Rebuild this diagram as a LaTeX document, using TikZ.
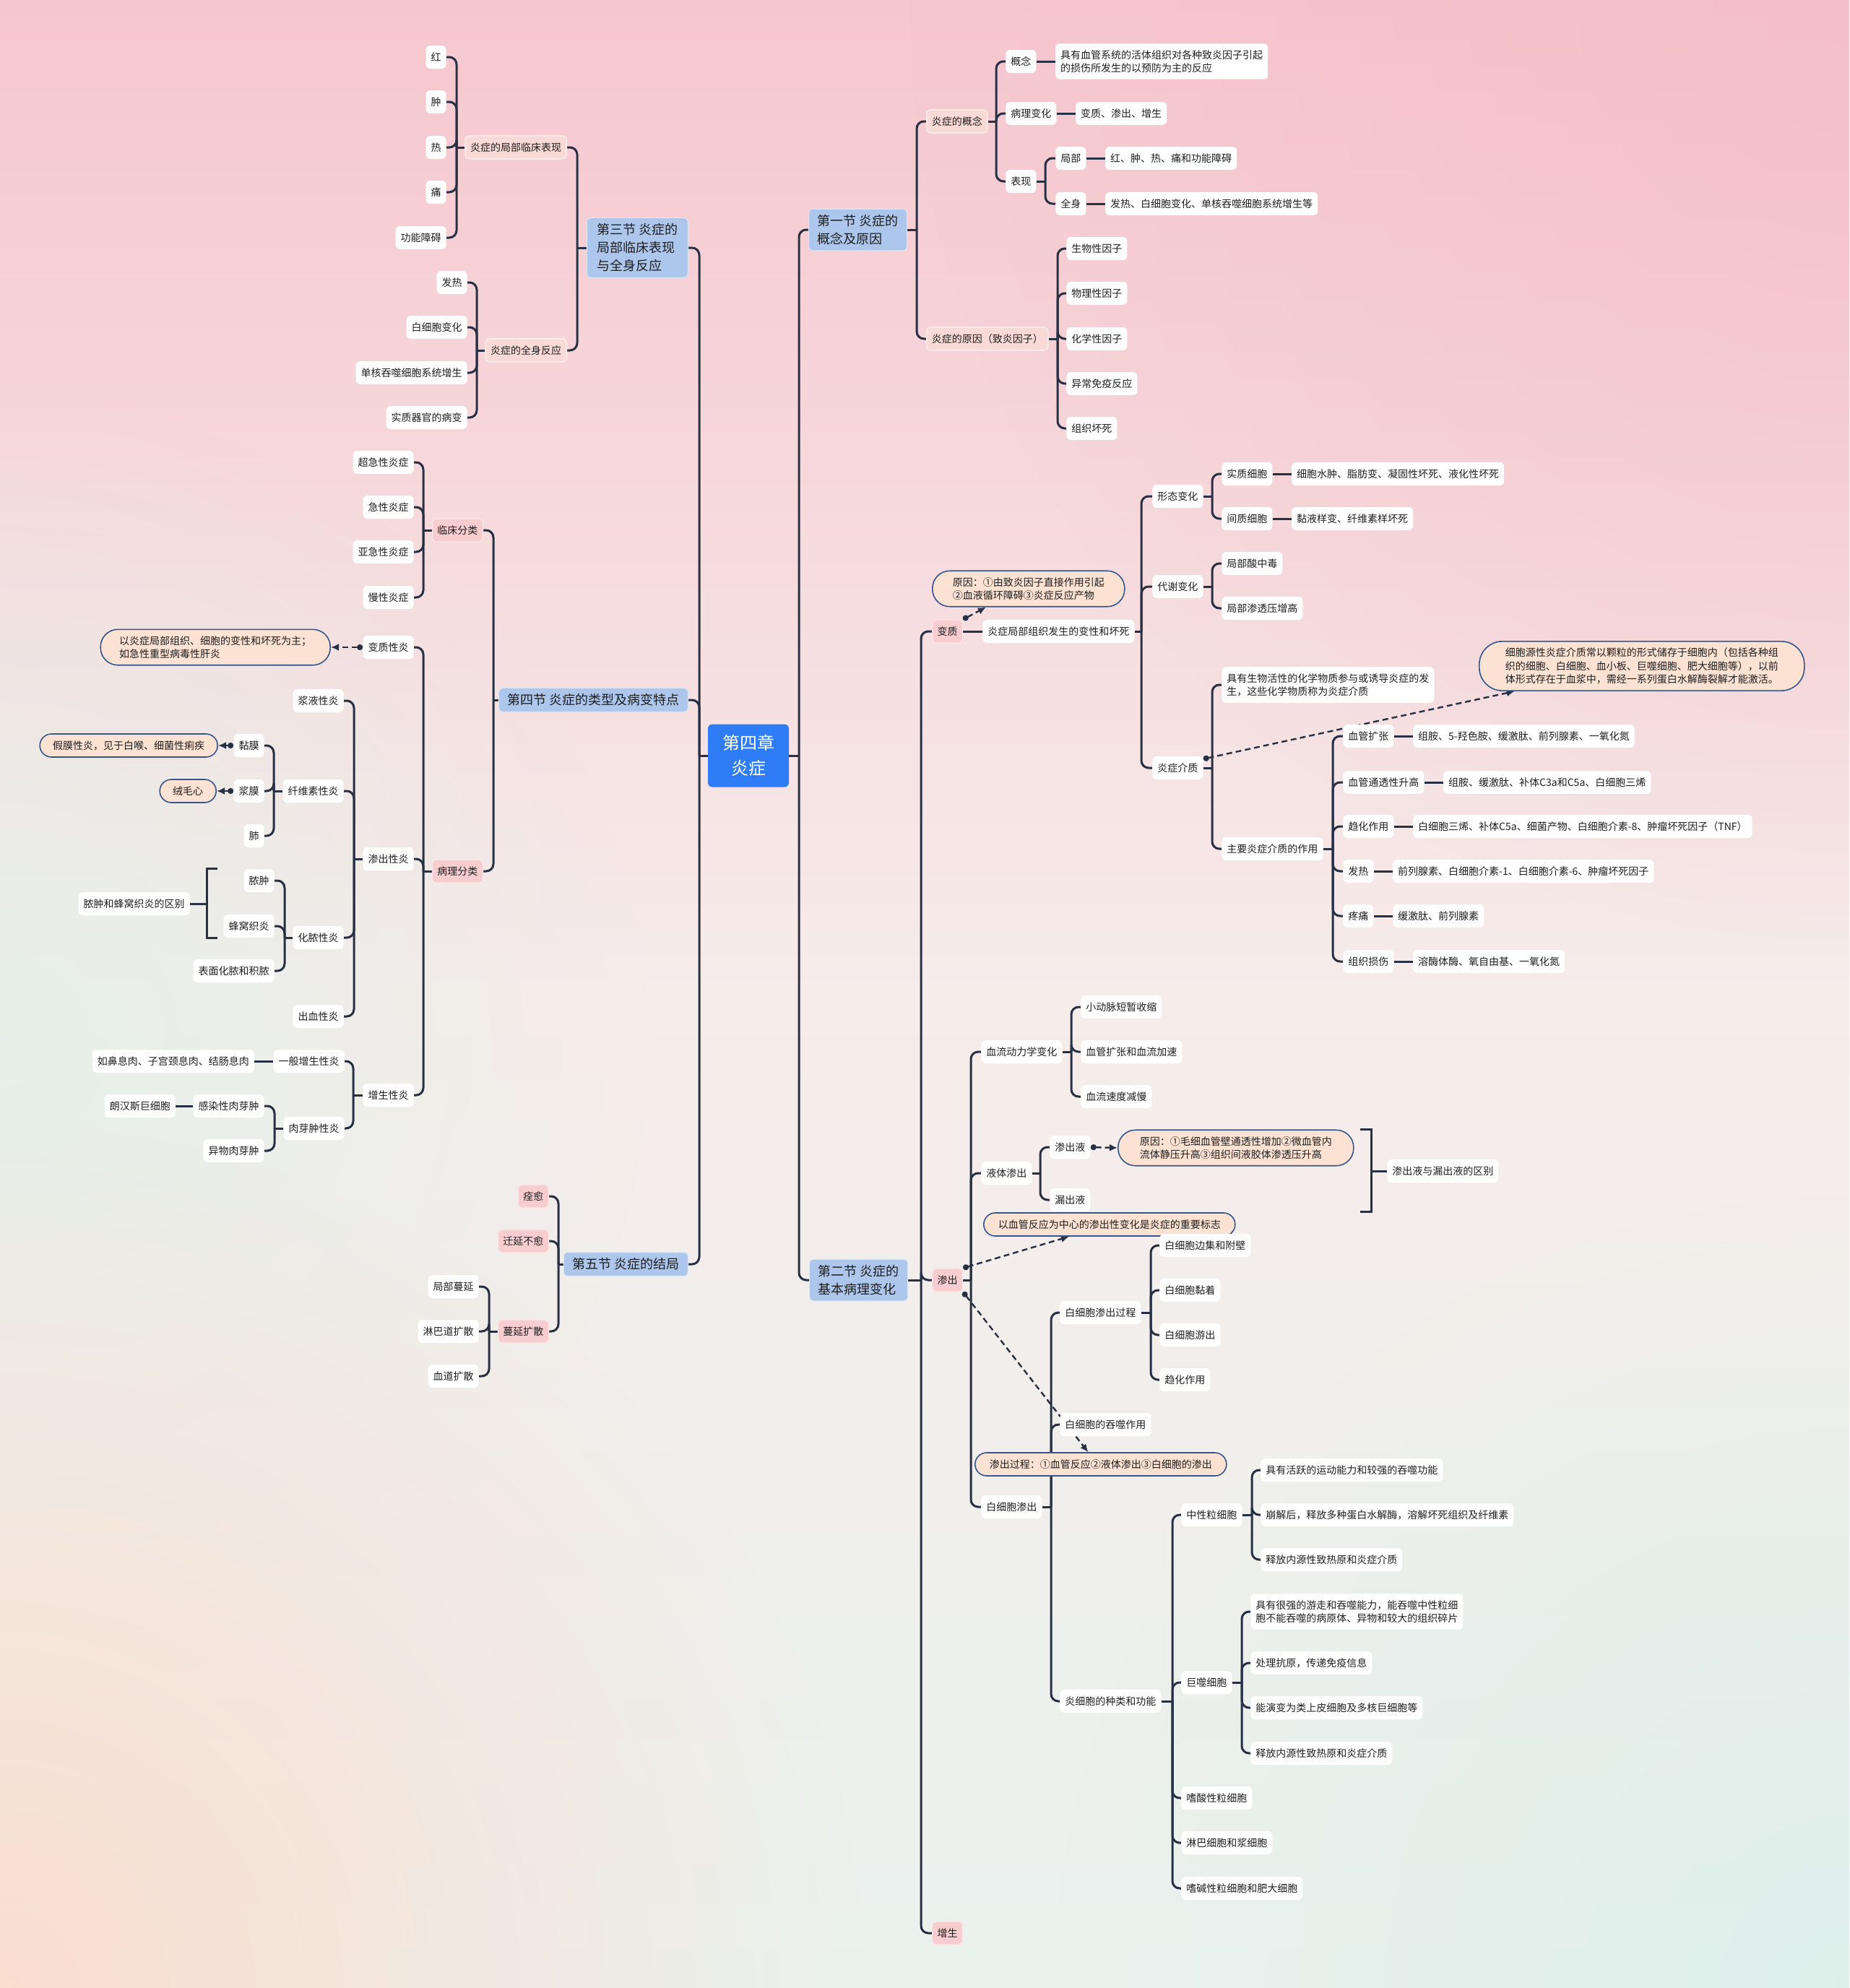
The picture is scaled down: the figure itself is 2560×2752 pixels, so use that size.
\documentclass[tikz,border=0pt]{standalone}
\usepackage{fontspec}
\newfontfamily\cjk{Noto Sans CJK SC}
\usetikzlibrary{positioning,calc,arrows.meta,fadings}
\definecolor{cLine}{HTML}{283044}
\definecolor{cText}{HTML}{1E1E1E}
\definecolor{cPinkA}{HTML}{F8CDD0}
\definecolor{cPinkB}{HTML}{F9DAD6}
\definecolor{cPinkBd}{HTML}{FCECEA}
\definecolor{cSec}{HTML}{ADC6EC}
\definecolor{cRoot}{HTML}{2E7CF6}
\definecolor{cPeach}{HTML}{FCE2D2}
\definecolor{cCallB}{HTML}{35568C}
\definecolor{bgT}{HTML}{F6C6CE}
\definecolor{bgM}{HTML}{F6ECEA}
\definecolor{bgB}{HTML}{EAF2EE}
\definecolor{bgPk}{HTML}{F4BCC6}
\definecolor{bgMint}{HTML}{E3F1E9}
\definecolor{bgPeach}{HTML}{FCDCCD}
\definecolor{bgMint2}{HTML}{DCEFEA}
\pgfdeclarelayer{back}\pgfdeclarelayer{lines}\pgfsetlayers{back,lines,main}
\tikzfading[name=softc, inner color=transparent!0, outer color=transparent!100]
\newcommand\BR[3]{\begin{pgfonlayer}{lines}\draw[conn] (#1.east) -- (#1.east -| #2,0);\foreach \ch in {#3}{\draw[conn] (#1.east -| #2,0) |- (\ch.west);}\end{pgfonlayer}}
\newcommand\BL[3]{\begin{pgfonlayer}{lines}\draw[conn] (#1.west) -- (#1.west -| #2,0);\foreach \ch in {#3}{\draw[conn] (#1.west -| #2,0) |- (\ch.east);}\end{pgfonlayer}}
\begin{document}
\begin{tikzpicture}[x=0.5pt,y=-0.5pt,
 conn/.style={draw=cLine, line width=1.5pt, rounded corners=5pt},
 nbase/.style={font=\cjk\fontsize{7}{9.2}\selectfont, text=cText, align=left, inner xsep=3.5pt, inner ysep=4.5pt, minimum height=16pt, rounded corners=3pt},
 leaf/.style={nbase, fill=white},
 pk/.style={nbase, fill=cPinkA, draw=white!55!cPinkA, line width=0.6pt},
 lp/.style={nbase, fill=cPinkB, draw=cPinkBd, line width=0.8pt},
 sec/.style={font=\cjk\fontsize{9}{12.5}\selectfont, fill=cSec, draw=white!55!cSec, line width=0.6pt, text=cText, align=left, inner xsep=6pt, inner ysep=4pt, rounded corners=3pt},
 rootn/.style={font=\cjk\fontsize{12}{17.5}\selectfont, fill=cRoot, text=white, align=center, minimum width=56pt, minimum height=43.5pt, rounded corners=3pt},
 call/.style={nbase, fill=cPeach, draw=cCallB, line width=0.8pt, inner xsep=9pt, rounded corners=8pt},
 dar/.style={draw=cLine, line width=1.2pt, dash pattern=on 4pt off 2.5pt, arrows={Circle[length=4pt]-Latex[length=5.5pt,width=5pt]}},
]
\useasboundingbox (0,0) rectangle (2560,2752);
\begin{pgfonlayer}{back}
\begin{scope}
\clip (0,0) rectangle (2560,2752);
\shade[top color=bgT, bottom color=bgB, middle color=bgM] (0,0) rectangle (2560,2752);
\fill[bgPk, path fading=softc, fill opacity=0.7] (2560,0) circle (1300);
\fill[bgMint, path fading=softc, fill opacity=0.8] (0,1450) circle (900);
\fill[bgPeach, path fading=softc, fill opacity=0.9] (0,2752) circle (1200);
\fill[bgMint2, path fading=softc, fill opacity=0.8] (2560,2752) circle (1100);
\end{scope}
\end{pgfonlayer}

% root and sections
\node[rootn] (root) at (1036,1046) {第四章\\炎症};
\node[sec, anchor=west] (s1) at (1119,318) {第一节 炎症的\\概念及原因};
\node[sec, anchor=west] (s2) at (1120,1772) {第二节 炎症的\\基本病理变化};
\node[sec, anchor=east, minimum width=70pt] (s3) at (953,343) {第三节 炎症的\\局部临床表现\\与全身反应};
\node[sec, anchor=east] (s4) at (953,969) {第四节 炎症的类型及病变特点};
\node[sec, anchor=east] (s5) at (953,1750) {第五节 炎症的结局};
\BR{root}{1106}{s1,s2}
\BL{root}{968}{s3,s4,s5}

% section 1
\node[lp, anchor=west] (a1) at (1282,168) {炎症的概念};
\node[lp, anchor=west] (a2) at (1282,469) {炎症的原因（致炎因子）};
\BR{s1}{1269}{a1,a2}
\node[leaf, anchor=west] (b1) at (1392,85) {概念};
\node[leaf, right=13pt of b1] (b1t) {具有血管系统的活体组织对各种致炎因子引起\\的损伤所发生的以预防为主的反应};
\node[leaf, anchor=west] (b2) at (1392,157) {病理变化};
\node[leaf, right=13pt of b2] (b2t) {变质、渗出、增生};
\node[leaf, anchor=west] (b3) at (1392,251) {表现};
\BR{a1}{1379}{b1,b2,b3}
\node[leaf, anchor=west] (c1) at (1461,219) {局部};
\node[leaf, right=13pt of c1] (c1t) {红、肿、热、痛和功能障碍};
\node[leaf, anchor=west] (c2) at (1461,282) {全身};
\node[leaf, right=13pt of c2] (c2t) {发热、白细胞变化、单核吞噬细胞系统增生等};
\BR{b3}{1447}{c1,c2}
\node[leaf, anchor=west] (e1) at (1476,344) {生物性因子};
\node[leaf, anchor=west] (e2) at (1476,406) {物理性因子};
\node[leaf, anchor=west] (e3) at (1476,469) {化学性因子};
\node[leaf, anchor=west] (e4) at (1476,531) {异常免疫反应};
\node[leaf, anchor=west] (e5) at (1476,593) {组织坏死};
\BR{a2}{1464}{e1,e2,e3,e4,e5}

% section 2
\node[pk, anchor=west] (bz) at (1290,874) {变质};
\node[pk, anchor=west] (sc) at (1290,1772) {渗出};
\node[pk, anchor=west] (zs) at (1290,2676) {增生};
\BR{s2}{1275}{bz,sc,zs}
\node[call, anchor=west, inner xsep=14pt, rounded corners=12pt] (bzc) at (1290,815) {原因：①由致炎因子直接作用引起\\②血液循环障碍③炎症反应产物};
\node[leaf, anchor=west] (bzn) at (1360,874) {炎症局部组织发生的变性和坏死};
\node[leaf, anchor=west] (xt) at (1595,687) {形态变化};
\node[leaf, anchor=west] (dx) at (1595,812) {代谢变化};
\node[leaf, anchor=west] (yz) at (1595,1063) {炎症介质};
\BR{bzn}{1580}{xt,dx,yz}
\node[leaf, anchor=west] (sz) at (1691,656) {实质细胞};
\node[leaf, right=13pt of sz] (szt) {细胞水肿、脂肪变、凝固性坏死、液化性坏死};
\node[leaf, anchor=west] (jz) at (1691,718) {间质细胞};
\node[leaf, right=13pt of jz] (jzt) {黏液样变、纤维素样坏死};
\BR{xt}{1678}{sz,jz}
\node[leaf, anchor=west] (d1) at (1691,780) {局部酸中毒};
\node[leaf, anchor=west] (d2) at (1691,842) {局部渗透压增高};
\BR{dx}{1678}{d1,d2}
\node[leaf, anchor=west] (y1) at (1691,948) {具有生物活性的化学物质参与或诱导炎症的发\\生，这些化学物质称为炎症介质};
\node[leaf, anchor=west] (zy) at (1691,1175) {主要炎症介质的作用};
\BR{yz}{1678}{y1,zy}
\node[call, anchor=west, inner xsep=18pt, rounded corners=16pt] (cxb) at (2047,922) {细胞源性炎症介质常以颗粒的形式储存于细胞内（包括各种组\\织的细胞、白细胞、血小板、巨噬细胞、肥大细胞等），以前\\体形式存在于血浆中，需经一系列蛋白水解酶裂解才能激活。};
\node[leaf, anchor=west] (f1) at (1859,1019) {血管扩张};
\node[leaf, right=13pt of f1] (f1t) {组胺、5-羟色胺、缓激肽、前列腺素、一氧化氮};
\node[leaf, anchor=west] (f2) at (1859,1083) {血管通透性升高};
\node[leaf, right=13pt of f2] (f2t) {组胺、缓激肽、补体C3a和C5a、白细胞三烯};
\node[leaf, anchor=west] (f3) at (1859,1144) {趋化作用};
\node[leaf, right=13pt of f3] (f3t) {白细胞三烯、补体C5a、细菌产物、白细胞介素-8、肿瘤坏死因子（TNF）};
\node[leaf, anchor=west] (f4) at (1859,1206) {发热};
\node[leaf, right=13pt of f4] (f4t) {前列腺素、白细胞介素-1、白细胞介素-6、肿瘤坏死因子};
\node[leaf, anchor=west] (f5) at (1859,1268) {疼痛};
\node[leaf, right=13pt of f5] (f5t) {缓激肽、前列腺素};
\node[leaf, anchor=west] (f6) at (1859,1331) {组织损伤};
\node[leaf, right=13pt of f6] (f6t) {溶酶体酶、氧自由基、一氧化氮};
\BR{zy}{1845}{f1,f2,f3,f4,f5,f6}

% exudation
\node[leaf, anchor=west] (xl) at (1358,1456) {血流动力学变化};
\node[leaf, anchor=west] (yt) at (1358,1624) {液体渗出};
\node[leaf, anchor=west] (bx) at (1358,2086) {白细胞渗出};
\BR{sc}{1344}{xl,yt,bx}
\node[leaf, anchor=west] (g1) at (1496,1394) {小动脉短暂收缩};
\node[leaf, anchor=west] (g2) at (1496,1456) {血管扩张和血流加速};
\node[leaf, anchor=west] (g3) at (1496,1518) {血流速度减慢};
\BR{xl}{1483}{g1,g2,g3}
\node[leaf, anchor=west] (scy) at (1453,1588) {渗出液};
\node[leaf, anchor=west] (lcy) at (1453,1661) {漏出液};
\BR{yt}{1440}{scy,lcy}
\node[call, anchor=west, inner xsep=15pt, rounded corners=12pt] (yy2) at (1547,1589) {原因：①毛细血管壁通透性增加②微血管内\\流体静压升高③组织间液胶体渗透压升高};
\node[leaf, anchor=west] (qb) at (1920,1621) {渗出液与漏出液的区别};
\node[call, anchor=west, inner xsep=10pt] (xgfy) at (1361,1695) {以血管反应为中心的渗出性变化是炎症的重要标志};
\node[call, anchor=west, inner xsep=10pt] (scgc) at (1349,2027) {渗出过程：①血管反应②液体渗出③白细胞的渗出};
\node[leaf, anchor=west] (gc) at (1467,1817) {白细胞渗出过程};
\node[leaf, anchor=west] (ts) at (1467,1972) {白细胞的吞噬作用};
\node[leaf, anchor=west] (zl) at (1467,2355) {炎细胞的种类和功能};
\BR{bx}{1455}{gc,ts,zl}
\node[leaf, anchor=west] (h1) at (1605,1724) {白细胞边集和附壁};
\node[leaf, anchor=west] (h2) at (1605,1786) {白细胞黏着};
\node[leaf, anchor=west] (h3) at (1605,1848) {白细胞游出};
\node[leaf, anchor=west] (h4) at (1605,1910) {趋化作用};
\BR{gc}{1593}{h1,h2,h3,h4}
\node[leaf, anchor=west] (zx) at (1635,2097) {中性粒细胞};
\node[leaf, anchor=west] (js) at (1635,2329) {巨噬细胞};
\node[leaf, anchor=west] (sa) at (1635,2489) {嗜酸性粒细胞};
\node[leaf, anchor=west] (lb) at (1635,2551) {淋巴细胞和浆细胞};
\node[leaf, anchor=west] (sj) at (1635,2614) {嗜碱性粒细胞和肥大细胞};
\BR{zl}{1623}{zx,js,sa,lb,sj}
\node[leaf, anchor=west] (i1) at (1745,2035) {具有活跃的运动能力和较强的吞噬功能};
\node[leaf, anchor=west] (i2) at (1745,2097) {崩解后，释放多种蛋白水解酶，溶解坏死组织及纤维素};
\node[leaf, anchor=west] (i3) at (1745,2159) {释放内源性致热原和炎症介质};
\BR{zx}{1733}{i1,i2,i3}
\node[leaf, anchor=west] (j1) at (1731,2231) {具有很强的游走和吞噬能力，能吞噬中性粒细\\胞不能吞噬的病原体、异物和较大的组织碎片};
\node[leaf, anchor=west] (j2) at (1731,2302) {处理抗原，传递免疫信息};
\node[leaf, anchor=west] (j3) at (1731,2364) {能演变为类上皮细胞及多核巨细胞等};
\node[leaf, anchor=west] (j4) at (1731,2427) {释放内源性致热原和炎症介质};
\BR{js}{1719}{j1,j2,j3,j4}

% section 3
\node[lp, anchor=east] (l1) at (785,204) {炎症的局部临床表现};
\node[lp, anchor=east] (l2) at (785,485) {炎症的全身反应};
\BL{s3}{799}{l1,l2}
\node[leaf, anchor=east] (k1) at (618,79) {红};
\node[leaf, anchor=east] (k2) at (618,141) {肿};
\node[leaf, anchor=east] (k3) at (618,204) {热};
\node[leaf, anchor=east] (k4) at (618,266) {痛};
\node[leaf, anchor=east] (k5) at (618,329) {功能障碍};
\BL{l1}{632}{k1,k2,k3,k4,k5}
\node[leaf, anchor=east] (m1) at (647,391) {发热};
\node[leaf, anchor=east] (m2) at (647,453) {白细胞变化};
\node[leaf, anchor=east] (m3) at (647,516) {单核吞噬细胞系统增生};
\node[leaf, anchor=east] (m4) at (647,578) {实质器官的病变};
\BL{l2}{660}{m1,m2,m3,m4}

% section 4
\node[pk, anchor=east] (lc) at (669,734) {临床分类};
\node[pk, anchor=east] (bl) at (669,1206) {病理分类};
\BL{s4}{683}{lc,bl}
\node[leaf, anchor=east] (n1) at (573,640) {超急性炎症};
\node[leaf, anchor=east] (n2) at (573,702) {急性炎症};
\node[leaf, anchor=east] (n3) at (573,764) {亚急性炎症};
\node[leaf, anchor=east] (n4) at (573,827) {慢性炎症};
\BL{lc}{586}{n1,n2,n3,n4}
\node[leaf, anchor=east] (bzx) at (573,896) {变质性炎};
\node[leaf, anchor=east] (scx) at (573,1189) {渗出性炎};
\node[leaf, anchor=east] (zsx) at (573,1516) {增生性炎};
\BL{bl}{586}{bzx,scx,zsx}
\node[call, anchor=east, inner xsep=13pt, rounded corners=12pt] (cbzx) at (458,896) {以炎症局部组织、细胞的变性和坏死为主；\\如急性重型病毒性肝炎};
\node[leaf, anchor=east] (o1) at (476,970) {浆液性炎};
\node[leaf, anchor=east] (o2) at (476,1095) {纤维素性炎};
\node[leaf, anchor=east] (o3) at (476,1298) {化脓性炎};
\node[leaf, anchor=east] (o4) at (476,1407) {出血性炎};
\BL{scx}{490}{o1,o2,o3,o4}
\node[leaf, anchor=east] (p1) at (366,1032) {黏膜};
\node[leaf, anchor=east] (p2) at (366,1095) {浆膜};
\node[leaf, anchor=east] (p3) at (366,1157) {肺};
\BL{o2}{379}{p1,p2,p3}
\node[call, anchor=east] (cjm) at (302,1032) {假膜性炎，见于白喉、细菌性痢疾};
\node[call, anchor=east] (crm) at (300,1095) {绒毛心};
\node[leaf, anchor=east] (q1) at (380,1219) {脓肿};
\node[leaf, anchor=east] (q2) at (380,1282) {蜂窝织炎};
\node[leaf, anchor=east] (q3) at (380,1344) {表面化脓和积脓};
\BL{o3}{394}{q1,q2,q3}
\node[leaf, anchor=east] (qd) at (263,1251) {脓肿和蜂窝织炎的区别};
\node[leaf, anchor=east] (r1) at (477,1469) {一般增生性炎};
\node[leaf, left=13pt of r1] (r1t) {如鼻息肉、子宫颈息肉、结肠息肉};
\node[leaf, anchor=east] (r2) at (477,1562) {肉芽肿性炎};
\BL{zsx}{489}{r1,r2}
\node[leaf, anchor=east] (t1) at (366,1531) {感染性肉芽肿};
\node[leaf, left=12pt of t1] (t1t) {朗汉斯巨细胞};
\node[leaf, anchor=east] (t2) at (366,1593) {异物肉芽肿};
\BL{r2}{380}{t1,t2}

% section 5
\node[pk, anchor=east] (u1) at (760,1656) {痊愈};
\node[pk, anchor=east] (u2) at (760,1718) {迁延不愈};
\node[pk, anchor=east] (u3) at (760,1843) {蔓延扩散};
\BL{s5}{773}{u1,u2,u3}
\node[leaf, anchor=east] (w1) at (663,1781) {局部蔓延};
\node[leaf, anchor=east] (w2) at (663,1843) {淋巴道扩散};
\node[leaf, anchor=east] (w3) at (663,1905) {血道扩散};
\BL{u3}{677}{w1,w2,w3}

% single links, brackets, dashed arrows
\begin{pgfonlayer}{lines}
\draw[conn] (b1.east) -- (b1t.west);
\draw[conn] (b2.east) -- (b2t.west);
\draw[conn] (c1.east) -- (c1t.west);
\draw[conn] (c2.east) -- (c2t.west);
\draw[conn] (bz.east) -- (bzn.west);
\draw[conn] (sz.east) -- (szt.west);
\draw[conn] (jz.east) -- (jzt.west);
\foreach \a in {f1,f2,f3,f4,f5,f6} \draw[conn] (\a.east) -- (\a t.west);
\draw[conn] (r1.west) -- (r1t.east);
\draw[conn] (t1.west) -- (t1t.east);
% brackets
\draw[conn, rounded corners=0pt] (yy2.north -| 1883,0) -- (yy2.north -| 1898,0) -- (lcy.south -| 1898,0) -- (lcy.south -| 1883,0);
\draw[conn] (qb.west) -- (qb.west -| 1898,0);
\draw[conn, rounded corners=0pt] (q1.north -| 301,0) -- (q1.north -| 286,0) -- (q2.south -| 286,0) -- (q2.south -| 301,0);
\draw[conn] (qd.east) -- (qd.east -| 286,0);
% dashed arrows
\draw[dar] (bz.north east) -- ($(bzc.south west)!0.28!(bzc.south east)$);
\draw[dar] ([yshift=-2pt]yz.north east) -- ($(cxb.south west)!0.11!(cxb.south east)$);
\draw[dar] (sc.north east) -- ($(xgfy.south west)!0.34!(xgfy.south east)$);
\draw[dar] (sc.south east) -- ($(scgc.north west)!0.45!(scgc.north east)$);
\draw[dar] (scy.east) -- (yy2.west);
\draw[dar] (bzx.west) -- (cbzx.east);
\draw[dar] (p1.west) -- (cjm.east);
\draw[dar] (p2.west) -- (crm.east);
\end{pgfonlayer}
\end{tikzpicture}
\end{document}
